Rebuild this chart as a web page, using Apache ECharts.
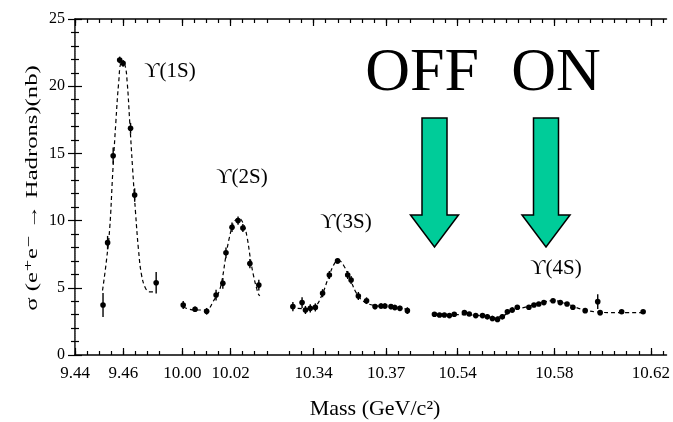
<!DOCTYPE html>
<html lang="en">
<head>
    <meta charset="UTF-8">
    <title>Upsilon scan</title>
    <style>
        html, body { margin: 0; padding: 0; background: #fff; }
        #main { width: 673px; height: 422px; }
    </style>
    <script src="https://cdn.jsdelivr.net/npm/echarts@6/dist/echarts.min.js"></script>
</head>
<body>
<div id="main"></div>
<script>
    // measured points: mass (GeV/c^2), cross section (nb), error (nb)
    const mass1S = [9.4516, 9.4535, 9.4558, 9.4585, 9.4599, 9.4630, 9.4647, 9.4736]
    const sigma1S = [3.72, 8.36, 14.83, 21.95, 21.7, 16.87, 11.9, 5.38]
    const err1S = [0.9, 0.5, 0.6, 0.25, 0.25, 0.4, 0.5, 0.8]

    const mass2S = [10.0004, 10.0053, 10.0101, 10.0140, 10.0168, 10.0181, 10.0206, 10.0231, 10.0251, 10.0280, 10.0317]
    const sigma2S = [3.72, 3.4, 3.25, 4.46, 5.33, 7.6, 9.5, 10.0, 9.45, 6.8, 5.2]
    const err2S = [0.3, 0.2, 0.25, 0.4, 0.4, 0.4, 0.35, 0.3, 0.3, 0.35, 0.4]

    const mass3S = [10.3314, 10.3352, 10.3366, 10.3386, 10.3407, 10.3437, 10.3465, 10.3499, 10.3541, 10.3555,
        10.3585, 10.3619, 10.3654, 10.3679, 10.3695, 10.3720, 10.3736, 10.3757, 10.3788]
    const sigma3S = [3.6, 3.9, 3.35, 3.47, 3.54, 4.6, 5.95, 7.0, 5.95, 5.58, 4.39, 4.04, 3.6, 3.65, 3.65, 3.6, 3.53, 3.47, 3.3]
    const err3S = [0.35, 0.4, 0.3, 0.3, 0.3, 0.3, 0.3, 0.2, 0.3, 0.3, 0.3, 0.25, 0.2, 0.2, 0.2, 0.2, 0.2, 0.2, 0.25]

    const mass4S = [10.5304, 10.5325, 10.5345, 10.5366, 10.5386, 10.5428, 10.5448, 10.5475, 10.5503, 10.5523,
        10.5544, 10.5565, 10.5585, 10.5606, 10.5626, 10.5647, 10.5695, 10.5716, 10.5736, 10.5757,
        10.5795, 10.5825, 10.5853, 10.5877, 10.5928, 10.5980, 10.5990, 10.6079, 10.6168]
    const sigma4S = [3.03, 2.98, 2.98, 2.93, 3.03, 3.15, 3.05, 2.93, 2.93, 2.85, 2.72, 2.65, 2.85, 3.22, 3.35, 3.55,
        3.55, 3.72, 3.8, 3.9, 4.04, 3.9, 3.8, 3.55, 3.3, 3.97, 3.15, 3.22, 3.22]
    const err4S = [0.15, 0.15, 0.15, 0.15, 0.15, 0.15, 0.15, 0.15, 0.15, 0.2, 0.2, 0.2, 0.2, 0.2, 0.2, 0.15,
        0.15, 0.15, 0.15, 0.15, 0.15, 0.15, 0.15, 0.15, 0.15, 0.55, 0.2, 0.15, 0.15]

    // dashed fit curves
    const fitMass1S = [9.4514, 9.4530, 9.4544, 9.4556, 9.4569, 9.4581, 9.4592, 9.4606, 9.4616, 9.4626, 9.4638,
        9.4651, 9.4663, 9.4675, 9.4691, 9.4708, 9.4728]
    const fitSigma1S = [4.8, 7.0, 9.5, 13.5, 17.3, 20.3, 21.7, 21.6, 20.3, 17.5, 14.0, 10.5, 7.8, 6.0, 5.0, 4.7, 4.7]

    const fitMass2S = [10.0004, 10.0053, 10.0099, 10.0132, 10.0152, 10.0166, 10.0180, 10.0196, 10.0214, 10.0235,
        10.0255, 10.0269, 10.0283, 10.0296, 10.0314, 10.0321]
    const fitSigma2S = [3.55, 3.35, 3.35, 4.1, 4.7, 5.7, 7.3, 8.8, 9.9, 10.17, 9.67, 8.7, 7.07, 5.83, 4.59, 4.4]

    const fitMass3S = [10.3305, 10.3359, 10.3404, 10.3433, 10.3462, 10.3486, 10.3503, 10.3523, 10.3552, 10.3577,
        10.3606, 10.3647, 10.3709, 10.3791]
    const fitSigma3S = [3.5, 3.45, 3.6, 4.4, 5.8, 6.8, 7.05, 6.7, 5.6, 4.6, 4.0, 3.7, 3.6, 3.4]

    const fitMass4S = [10.5301, 10.5400, 10.5482, 10.5544, 10.5585, 10.5626, 10.5688, 10.5749, 10.5795, 10.5852,
        10.5914, 10.5976, 10.6058, 10.6169]
    const fitSigma4S = [3.0, 3.0, 2.95, 2.8, 2.9, 3.3, 3.6, 3.9, 4.05, 3.8, 3.4, 3.2, 3.15, 3.15]

    // axis ticks
    const tickLabels = ['9.44', '9.46', '10.00', '10.02', '10.34', '10.37', '10.54', '10.58', '10.62']
    const minorTickRanges = [[9.440, 9.475], [10.000, 10.035], [10.330, 10.380], [10.530, 10.625]]
    const yTicks = [0, 5, 10, 15, 20, 25]

    // broken mass axis: 1 unit = 1 MeV inside a piece, pieces are pushed together
    const pieces = [
        {from: 9.40, to: 9.70, base: 9.44, u0: 0},
        {from: 9.70, to: 10.20, base: 10.00, u0: 44.4},
        {from: 10.20, to: 10.45, base: 10.34, u0: 98.8},
        {from: 10.45, to: 10.70, base: 10.54, u0: 158.4}
    ]
    function toU(m) {
        const p = pieces.find(p => m >= p.from && m < p.to)
        return p.u0 + (m - p.base) * 1000
    }

    const majorU = tickLabels.map(t => toU(parseFloat(t)))
    const minorU = []
    minorTickRanges.forEach(([a, b]) => {
        for (let k = 0; a + k * 0.005 <= b + 1e-9; k++) minorU.push(toU(a + k * 0.005))
    })
    function labelFor(v) {
        let best = 0
        majorU.forEach((u, i) => { if (Math.abs(u - v) < Math.abs(majorU[best] - v)) best = i })
        return tickLabels[best]
    }

    const X_MAX = 244.86
    const serif = '"Liberation Serif", "DejaVu Serif", serif'

    function pts(ms, ss, es) {
        return ms.map((m, i) => [toU(m), ss[i], es[i]])
    }
    function curve(ms, ss) {
        return ms.map((m, i) => [toU(m), ss[i]])
    }

    function renderPoint(params, api) {
        const x = api.value(0), y = api.value(1), e = api.value(2)
        const top = api.coord([x, y + e])
        const bot = api.coord([x, y - e])
        const c = api.coord([x, y])
        return {
            type: 'group',
            children: [
                {type: 'line', shape: {x1: top[0], y1: top[1], x2: bot[0], y2: bot[1]},
                    style: {stroke: '#000', lineWidth: 1.4}},
                {type: 'circle', shape: {cx: c[0], cy: c[1], r: 2.8}, style: {fill: '#000'}}
            ]
        }
    }

    const dataSets = [
        [mass1S, sigma1S, err1S, fitMass1S, fitSigma1S],
        [mass2S, sigma2S, err2S, fitMass2S, fitSigma2S],
        [mass3S, sigma3S, err3S, fitMass3S, fitSigma3S],
        [mass4S, sigma4S, err4S, fitMass4S, fitSigma4S]
    ]
    const series = []
    dataSets.forEach(([m, s, e, fm, fs]) => {
        series.push({
            type: 'line', data: curve(fm, fs), smooth: 0.4, symbol: 'none',
            lineStyle: {color: '#000', width: 1.2, type: [4, 3]}, z: 2
        })
        series.push({type: 'custom', renderItem: renderPoint, data: pts(m, s, e), z: 3})
    })

    function xAx(pos, ticks, len, line, labels) {
        return {
            type: 'value', position: pos, min: 0, max: X_MAX,
            axisLine: {show: line, onZero: false, lineStyle: {color: '#000', width: 1.5}},
            axisTick: {show: true, inside: true, length: len, customValues: ticks, lineStyle: {color: '#000', width: 1.2}},
            axisLabel: labels ? {
                show: true, customValues: majorU, formatter: labelFor, margin: 10,
                color: '#000', fontFamily: serif, fontSize: 17
            } : {show: false},
            splitLine: {show: false}
        }
    }
    function yAx(pos, labels, line) {
        return {
            type: 'value', position: pos, min: 0, max: 25, interval: 5,
            axisLine: {show: true, lineStyle: line},
            axisTick: {show: true, inside: true, length: 7, lineStyle: {color: '#000', width: 1.2}},
            minorTick: {show: true, splitNumber: 5, length: 4, lineStyle: {color: '#000', width: 1.2}},
            axisLabel: labels ? {show: true, margin: 10, color: '#000', fontFamily: serif, fontSize: 16} : {show: false},
            splitLine: {show: false}
        }
    }

    function arrow(cx) {
        return {
            type: 'polygon',
            shape: {points: [[cx - 12.5, 118], [cx + 12.5, 118], [cx + 12.5, 215], [cx + 24, 215],
                [cx, 247], [cx - 24, 215], [cx - 12.5, 215]]},
            style: {fill: '#00cc99', stroke: '#000', lineWidth: 1.5}
        }
    }
    function label(text, x, y, size) {
        return {
            type: 'text', x: x, y: y,
            style: {text: text, fill: '#000', font: size + 'px ' + serif, align: 'center', verticalAlign: 'middle'}
        }
    }

    const chart = echarts.init(document.getElementById('main'))
    chart.setOption({
        backgroundColor: '#fff',
        animation: false,
        grid: {left: 75, right: 3, top: 19, bottom: 67},
        xAxis: [
            xAx('bottom', majorU, 7, true, true),
            xAx('bottom', minorU, 4, false, false),
            xAx('top', majorU, 7, true, false),
            xAx('top', minorU, 4, false, false)
        ],
        yAxis: [
            yAx('left', true, {color: '#000', width: 1.5}),
            yAx('right', false, {color: '#666', width: 1, type: 'dotted'})
        ],
        series: series,
        graphic: [
            {
                type: 'text', x: 33, y: 188, rotation: Math.PI / 2, scaleX: 1.45,
                style: {text: 'σ (e⁺e⁻ → Hadrons)(nb)', fill: '#000', font: '17px ' + serif,
                    align: 'center', verticalAlign: 'middle'}
            },
            label('Mass (GeV/c²)', 375, 409, 22),
            label('ϒ(1S)', 170, 71, 21),
            label('ϒ(2S)', 242, 177, 21),
            label('ϒ(3S)', 346, 222, 21),
            label('ϒ(4S)', 556, 268, 21),
            label('OFF', 422, 74, 62),
            label('ON', 556, 74, 62),
            arrow(434.5),
            arrow(546)
        ]
    })
</script>
</body>
</html>
